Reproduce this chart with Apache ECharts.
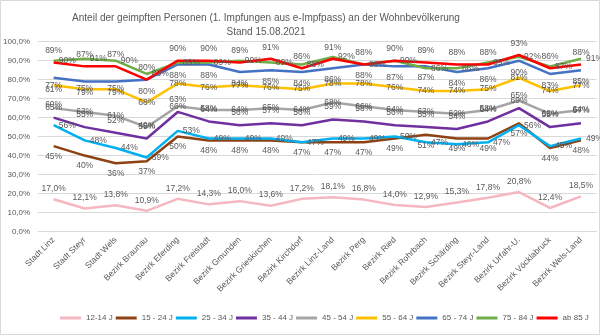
<!DOCTYPE html>
<html>
<head>
<meta charset="utf-8">
<script src="https://cdn.jsdelivr.net/npm/echarts@6/dist/echarts.min.js"></script>
<style>html,body{margin:0;padding:0;background:#fff}#c{width:600px;height:335px}</style>
</head>
<body>
<div id="c"></div>
<script>
const categories = ['Stadt Linz','Stadt Steyr','Stadt Wels','Bezirk Braunau','Bezirk Eferding','Bezirk Freistadt','Bezirk Gmunden','Bezirk Grieskirchen','Bezirk Kirchdorf','Bezirk Linz-Land','Bezirk Perg','Bezirk Ried','Bezirk Rohrbach','Bezirk Schärding','Bezirk Steyr-Land','Bezirk Urfahr-U.','Bezirk Vöcklabruck','Bezirk Wels-Land'];
const seriesNames = ['12-14 J','15 - 24 J','25 - 34 J','35 - 44 J','45 - 54 J','55 - 64 J','65 - 74 J','75 - 84 J','ab 85 J'];
const age12_14 = [17.0,12.1,13.8,10.9,17.2,14.3,16.0,13.6,17.2,18.1,16.8,14.0,12.9,15.3,17.8,20.8,12.4,18.5];
const age15_24 = [45,40,36,37,50,48,48,48,47,47,47,49,51,49,49,57,44,48];
const age25_34 = [56,48,44,39,53,49,49,49,47,49,49,50,47,46,47,56,45,49];
const age35_44 = [60,55,52,49,63,58,56,57,56,59,58,56,55,54,58,65,55,57];
const age45_54 = [65,63,61,55,66,64,64,65,64,68,66,64,63,62,64,69,62,64];
const age55_64 = [77,75,75,68,78,76,77,76,75,78,78,76,74,74,75,81,74,77];
const age65_74 = [81,79,79,80,88,88,84,85,84,86,88,87,87,84,86,90,83,85];
const age75_84 = [90,91,90,83,89,89,90,89,88,92,88,90,86,86,89,92,87,91];
const age85plus = [89,87,87,80,90,90,89,91,86,91,88,90,89,88,88,93,86,88];
const yTicks = [0,10,20,30,40,50,60,70,80,90,100];

const colors = ['#F5B7C0','#8E4212','#00B0F0','#7030A0','#A5A5A5','#FFC000','#4472C4','#70AD47','#FF0000'];
const dataSets = [age12_14,age15_24,age25_34,age35_44,age45_54,age55_64,age65_74,age75_84,age85plus];
const labelPos = [
  {position:'top',distance:6},
  {position:'bottom',distance:6},
  {position:'right',distance:5},
  {position:'top',distance:8},
  {position:'inside'},
  {position:'inside'},
  {position:'bottom',distance:7},
  {position:'right',distance:5},
  {position:'top',distance:7}
];
const FONT = "'Liberation Sans',Arial,sans-serif";
const txt = '#595959';

const series = dataSets.map((d,i)=>({
  name: seriesNames[i],
  type: 'line',
  data: d,
  symbol: 'circle',
  symbolSize: 0.1,
  showSymbol: true,
  smooth: false,
  lineStyle: {width: 2.5, color: colors[i]},
  itemStyle: {color: colors[i]},
  label: Object.assign({
    show: true,
    color: txt,
    fontSize: 8.5,
    fontFamily: FONT,
    formatter: i===0 ? (p)=>p.value.toFixed(1).replace('.',',')+'%' : (p)=>Math.round(p.value)+'%'
  }, labelPos[i]),
  labelLayout: {hideOverlap: false},
  emphasis: {disabled: true},
  animation: false
}));

const chart = echarts.init(document.getElementById('c'), null, {renderer:'canvas'});
chart.setOption({
  backgroundColor: '#fff',
  animation: false,
  title: {
    text: 'Anteil der geimpften Personen (1. Impfungen aus e-Impfpass) an der Wohnbevölkerung\nStand 15.08.2021',
    left: 261, top: 6, textAlign: 'center',
    textStyle: {fontSize: 10, fontWeight: 'normal', color: txt, fontFamily: FONT, lineHeight: 14}
  },
  grid: {left: 36.5, right: 3.5, top: 41.7, bottom: 103.5, containLabel: false},
  xAxis: {
    type: 'category', data: categories, boundaryGap: true,
    axisLine: {show: true, lineStyle: {color: '#d9d9d9'}},
    axisTick: {show: false},
    axisLabel: {rotate: 45, interval: 0, fontSize: 8.5, color: txt, fontFamily: FONT, margin: 7}
  },
  yAxis: {
    type: 'value', min: yTicks[0], max: yTicks[yTicks.length-1], interval: 10,
    axisLine: {show: false}, axisTick: {show: false},
    splitLine: {lineStyle: {color: '#d9d9d9'}},
    axisLabel: {fontSize: 8, color: txt, fontFamily: FONT, margin: 8,
      formatter: (v)=>v.toFixed(1).replace('.',',')+'%'}
  },
  legend: {
    data: seriesNames, left: 55, top: 309, width: 560, icon: 'rect', itemWidth: 21, itemHeight: 3, itemGap: 3,
    textStyle: {fontSize: 8, color: txt, fontFamily: FONT}
  },
  graphic: [{type:'rect', shape:{x:0.5,y:0.5,width:599,height:334}, style:{fill:'none', stroke:'#d9d9d9', lineWidth:1}, silent:true, z:-1}],
  series: series
});
</script>
</body>
</html>
